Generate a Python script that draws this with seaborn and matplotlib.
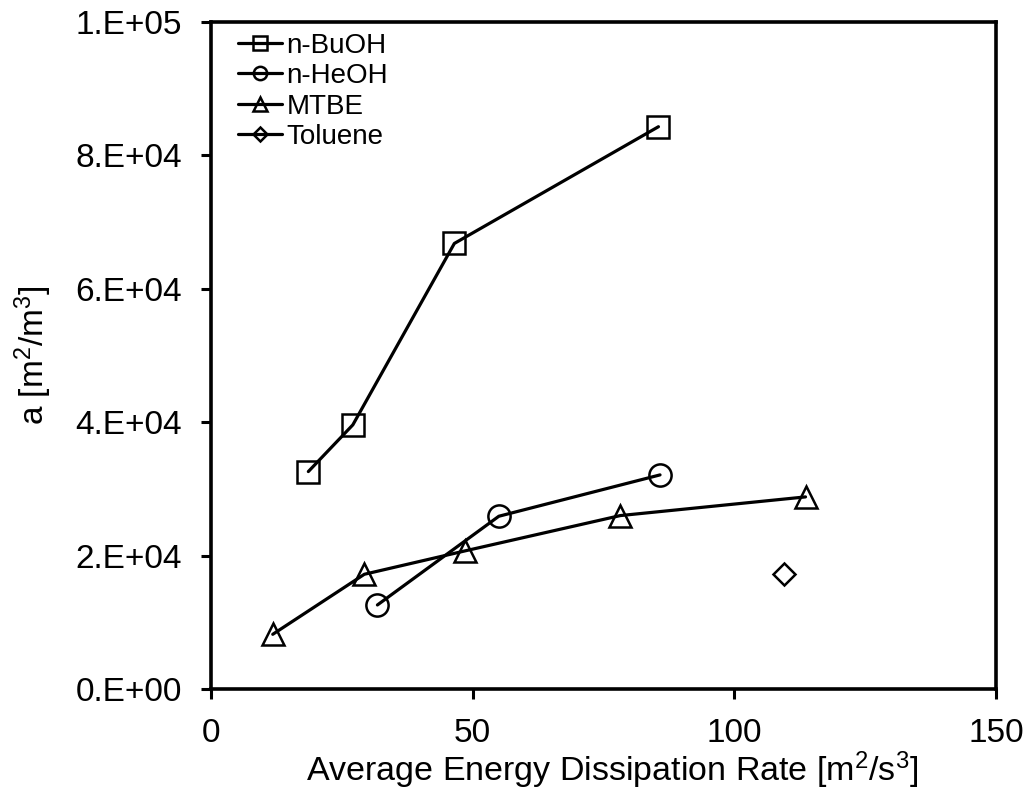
import pandas as pd
import numpy as np
import matplotlib.pyplot as plt
import seaborn as sb

buoh_x = [18.6, 27.1, 46.5, 85.5]
buoh_y = [32600, 39600, 66800, 84300]
heoh_x = [31.8, 55.0, 85.8]
heoh_y = [12600, 25900, 32100]
mtbe_x = [11.8, 29.3, 48.5, 78.2, 113.6]
mtbe_y = [8200, 17200, 20700, 26000, 28800]
tol_x = [109.4]
tol_y = [17300]
ytick_labels = ['0.E+00', '2.E+04', '4.E+04', '6.E+04', '8.E+04', '1.E+05']

series = [("n-BuOH", buoh_x, buoh_y, "s", 16.5),
          ("n-HeOH", heoh_x, heoh_y, "o", 16),
          ("MTBE", mtbe_x, mtbe_y, "^", 16.5),
          ("Toluene", tol_x, tol_y, "D", 11.5)]

sb.set_style("ticks", {'text.color': 'black', 'axes.labelcolor': 'black',
                       'xtick.color': 'black', 'ytick.color': 'black',
                       'axes.edgecolor': 'black'})
plt.rcParams['font.family'] = ['Liberation Sans', 'DejaVu Sans']
plt.rcParams['mathtext.default'] = 'regular'

fig = plt.figure(figsize=(10.33, 7.94), dpi=100)
axes = fig.add_axes([211/1033, 1 - 689/794, (996-211)/1033, (689-22)/794])

for name, xs, ys, mk, ms in series:
    df = pd.DataFrame({'x': xs, 'y': ys})
    sb.lineplot(data=df, x='x', y='y', ax=axes, color='black', linewidth=2.3,
                marker=mk, markersize=ms, markerfacecolor='none',
                markeredgecolor='black', markeredgewidth=1.8, sort=False,
                label=name)

axes.set_xlim(0, 150)
axes.set_ylim(0, 100000)
axes.set_xticks([0, 50, 100, 150])
axes.set_yticks(np.arange(0, 100001, 20000))
axes.set_yticklabels(ytick_labels)
axes.tick_params(direction='out', length=7, width=2.2, labelsize=24, pad=14)
for s in axes.spines.values():
    s.set_linewidth(2.6)
axes.set_xlabel("Average Energy Dissipation Rate [m$^2$/s$^3$]", fontsize=24.5, labelpad=0)
axes.xaxis.label.set_x(0.511)
axes.set_ylabel("a [m$^2$/m$^3$]", fontsize=24, labelpad=15)
axes.legend(loc='upper left', bbox_to_anchor=(0.034, 0.984), frameon=False,
            fontsize=20, handlelength=1.6, handletextpad=0.15, labelspacing=0.16,
            borderpad=0, borderaxespad=0, markerscale=0.6)
plt.savefig('out.png', dpi=100)
